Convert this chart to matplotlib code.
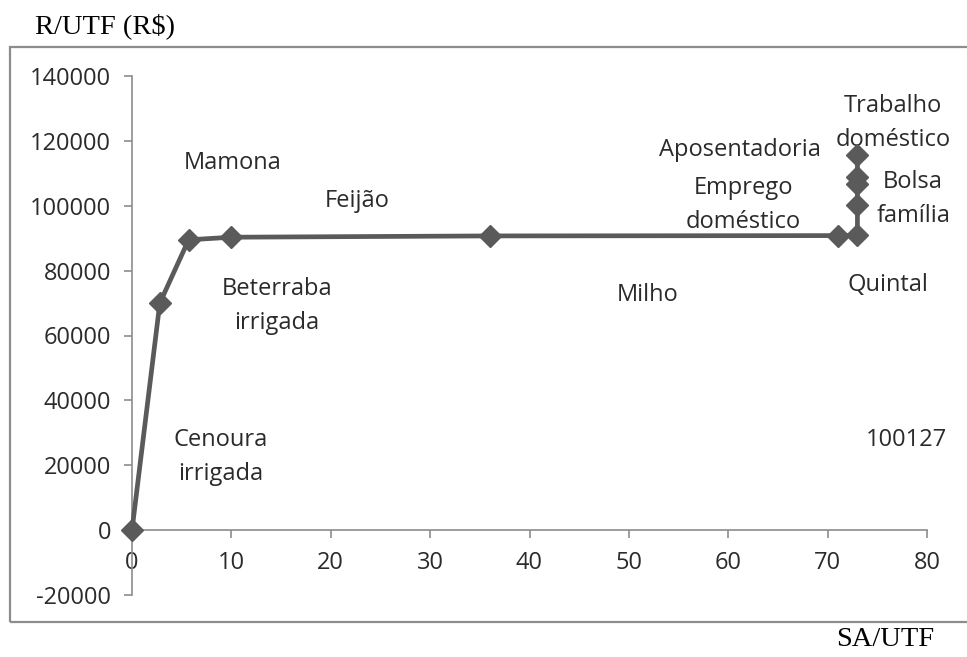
import matplotlib
matplotlib.use("Agg")
import matplotlib.pyplot as plt
from matplotlib.patches import Rectangle

# Cumulative income per family work unit (R/UTF) against area per work unit (SA/UTF)
sa_utf = [0, 2.8, 5.7, 10, 36, 71, 73, 73, 73, 73, 73]
r_utf = [0, 70000, 89500, 90300, 90700, 90800, 90900, 100127, 106800, 108800, 115700]

x_ticks = [0, 10, 20, 30, 40, 50, 60, 70, 80]
y_ticks = [-20000, 0, 20000, 40000, 60000, 80000, 100000, 120000, 140000]

labels = [
    ("Trabalho\ndoméstico", 76.6, 125500),
    ("Aposentadoria", 61.2, 117300),
    ("Emprego\ndoméstico", 61.5, 100200),
    ("Bolsa\nfamília", 78.6, 102100),
    ("Quintal", 76.1, 75600),
    ("Milho", 51.9, 72500),
    ("Feijão", 22.7, 101500),
    ("Mamona", 10.1, 113200),
    ("Beterraba\nirrigada", 14.6, 69100),
    ("Cenoura\nirrigada", 8.9, 22500),
    ("100127", 77.9, 27800),
]

W, H = 967, 657
fig = plt.figure(figsize=(W / 100, H / 100), dpi=100)
fig.patch.set_facecolor("white")

# outer chart frame
fig.patches.append(Rectangle((10 / W, 1 - 622 / H), (W - 8) / W, (622 - 47) / H,
                             transform=fig.transFigure, fill=False,
                             edgecolor="#8c8c8c", linewidth=1.6))

ax = fig.add_axes([132 / W, 1 - 595 / H, 795 / W, (595 - 76) / H])
ax.set_xlim(0, 80)
ax.set_ylim(-20000, 140000)
ax.patch.set_alpha(0)

axis_color = "#8c8c8c"
for s in ("top", "right"):
    ax.spines[s].set_visible(False)
ax.spines["left"].set_color(axis_color)
ax.spines["left"].set_linewidth(1.2)
ax.spines["bottom"].set_position(("data", 0))
ax.spines["bottom"].set_color(axis_color)
ax.spines["bottom"].set_linewidth(1.2)

ax.set_xticks(x_ticks)
ax.set_yticks(y_ticks)
ax.set_xticklabels([str(v) for v in x_ticks])
ax.set_yticklabels([str(v) for v in y_ticks])
tick_font = "Open Sans"
ax.tick_params(axis="both", direction="out", length=6, width=1.2, color=axis_color,
               labelsize=17, labelcolor="#2b2b2b")
ax.tick_params(axis="x", pad=9)
ax.tick_params(axis="y", pad=9)
for lab in ax.get_xticklabels() + ax.get_yticklabels():
    lab.set_fontfamily(tick_font)

ax.plot(sa_utf, r_utf, color="#5a5a5a", linewidth=3.4, marker="D",
        markersize=11, markerfacecolor="#5a5a5a", markeredgecolor="#5a5a5a",
        clip_on=False, zorder=5)

for text, x, y in labels:
    ax.text(x, y, text, ha="center", va="center", fontsize=17, family=tick_font,
            color="#2b2b2b", linespacing=1.55)

fig.text(35 / W, 1 - 26 / H, "R/UTF (R$)", ha="left", va="center",
         family="Liberation Serif", fontsize=20.5, color="black")
fig.text(885 / W, 1 - 640 / H, "SA/UTF", ha="center", va="center",
         family="Liberation Serif", fontsize=20.5, color="black")

fig.savefig("out.png", dpi=100, facecolor="white")
